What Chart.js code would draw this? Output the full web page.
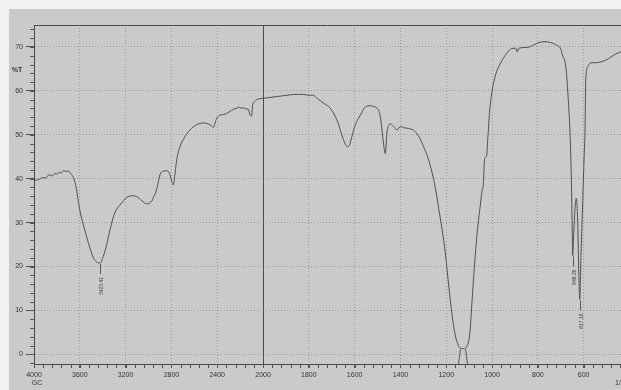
<!DOCTYPE html>
<html>
<head>
<meta charset="utf-8">
<script src="https://cdn.jsdelivr.net/npm/chart.js@4"></script>
<style>
  html, body { margin: 0; padding: 0; background: #f2f2f2; }
  canvas { display: block; }
</style>
</head>
<body>
<canvas id="irChart" width="621" height="390"></canvas>
<script>
// wavenumber (1/cm) and %T
const wavenumbers = [
  4000, 3975, 3950, 3925, 3900, 3880, 3860, 3840, 3820, 3800, 3780, 3760, 3740, 3720, 3700, 3685,
  3670, 3650, 3630, 3615, 3598, 3569, 3526, 3482, 3452, 3423, 3395, 3365, 3336, 3293, 3249, 3190,
  3147, 3103, 3059, 3016, 2995, 2987, 2970, 2958, 2937, 2923, 2900, 2871, 2841, 2818, 2797, 2783,
  2768, 2754, 2725, 2681, 2638, 2579, 2521, 2463, 2434, 2410, 2375, 2345, 2317, 2290, 2259, 2235,
  2216, 2195, 2172, 2150, 2128, 2114, 2099, 2091, 2070, 2056, 2030, 2000, 1970, 1940, 1910, 1882,
  1850, 1824, 1800, 1780, 1765, 1750, 1736, 1720, 1707, 1695, 1685, 1673, 1663, 1649, 1637, 1630,
  1622, 1612, 1597, 1575, 1554, 1532, 1515, 1503, 1488, 1476, 1466, 1459, 1450, 1444, 1430, 1415,
  1400, 1385, 1371, 1342, 1320, 1299, 1277, 1255, 1240, 1233, 1218, 1204, 1189, 1174, 1160, 1150,
  1141, 1124, 1109, 1097, 1087, 1077, 1065, 1050, 1043, 1039, 1032, 1024, 1018, 1010, 999, 985,
  963, 941, 919, 897, 890, 883, 846, 817, 795, 773, 744, 722, 700, 693, 678, 668,
  659, 653, 650, 648, 644, 638, 632, 626, 621, 617, 612, 604, 598, 594, 591, 582,
  569, 547, 525, 503, 481, 460, 437
]
const transmittance = [
  39.5, 39.7, 39.9, 40.3, 40.1, 40.7, 40.9, 40.6, 41.2, 41.0, 41.5, 41.3, 41.9, 41.6, 41.8, 41.3,
  40.9, 39.8, 37.8, 35.2, 32.6, 29.5, 25.5, 22.0, 21.0, 20.8, 22.3, 25.0, 28.4, 32.3, 34.0, 35.7,
  36.1, 35.9, 35.0, 34.3, 34.3, 34.6, 34.9, 35.7, 36.9, 38.2, 40.9, 41.7, 41.8, 41.3, 39.4, 38.6,
  41.3, 44.3, 47.3, 49.6, 51.1, 52.3, 52.7, 52.3, 51.7, 53.4, 54.5, 54.6, 54.9, 55.3, 55.8, 56.0,
  56.3, 56.1, 56.1, 55.9, 55.8, 54.5, 54.3, 56.8, 57.6, 58.0, 58.2, 58.3, 58.5, 58.7, 58.9, 59.1,
  59.2, 59.2, 59.0, 59.0, 58.3, 57.8, 57.2, 56.7, 56.1, 55.2, 54.2, 52.8, 51.1, 48.9, 47.5, 47.3,
  47.7, 49.6, 52.3, 54.5, 56.3, 56.6, 56.4, 56.1, 54.2, 48.9, 45.7, 50.4, 52.3, 52.5, 51.9, 51.1,
  51.9, 51.6, 51.5, 51.0, 49.6, 47.3, 44.3, 39.8, 35.6, 33.2, 28.4, 23.1, 15.5, 8.7, 4.2, 2.4,
  1.5, 1.3, 1.9, 4.9, 12.5, 20.0, 27.7, 34.5, 37.5, 38.2, 44.7, 45.1, 49.6, 55.7, 60.2, 63.6,
  66.3, 68.2, 69.5, 69.7, 68.9, 69.7, 69.9, 70.5, 71.0, 71.2, 71.0, 70.5, 69.5, 68.2, 65.5, 58.7,
  49.6, 38.0, 28.0, 22.5, 27.0, 33.0, 35.5, 30.0, 18.0, 12.5, 22.0, 35.0, 45.0, 51.0, 62.5, 65.5,
  66.4, 66.4, 66.6, 67.0, 67.7, 68.4, 68.9
]

const xTickLabels = [4000, 3600, 3200, 2800, 2400, 2000, 1800, 1600, 1400, 1200, 1000, 800, 600]
const yTickLabels = [0, 10, 20, 30, 40, 50, 60, 70]

const peakWavenumbers = [3423.41, 648.36, 617.18]
const peakLabels = ['3423.41', '648.36', '617.18']
const peakMinima = [20.8, 22.5, 12.5]
const clippedPeaks = [1138, 1118]
const clippedMinima = [1.4, 1.4]

// spectrometer chart: 4000-2000 at half the scale of 2000-400
function toT(w) {
  return w >= 2000 ? (4000 - w) / 2 : 3000 - w
}
function fromT(t) {
  return t <= 1000 ? 4000 - 2 * t : 3000 - t
}

const points = wavenumbers.map((w, i) => ({ x: toT(w), y: transmittance[i] }))

const paper = {
  id: 'paper',
  beforeDraw(chart) {
    const { ctx, width, height } = chart
    ctx.save()
    ctx.fillStyle = '#f1f1f1'
    ctx.fillRect(0, 0, width, height)
    ctx.fillStyle = '#cacaca'
    ctx.fillRect(9, 9, width - 9, height - 9)
    ctx.restore()
  },
  afterDraw(chart) {
    const { ctx, chartArea } = chart
    const x = chart.scales.x
    const y = chart.scales.y
    ctx.save()
    ctx.strokeStyle = '#4a4a4a'
    ctx.lineWidth = 1

    // frame top + 2000 divider
    ctx.beginPath()
    ctx.moveTo(chartArea.left, chartArea.top + 0.5)
    ctx.lineTo(chartArea.right, chartArea.top + 0.5)
    const x2000 = Math.round(x.getPixelForValue(toT(2000))) + 0.5
    ctx.moveTo(x2000, chartArea.top)
    ctx.lineTo(x2000, chartArea.bottom)
    ctx.stroke()

    // minor ticks
    ctx.strokeStyle = '#555'
    ctx.beginPath()
    for (let w = 4000; w > 2000; w -= 80) {
      const px = Math.round(x.getPixelForValue(toT(w))) + 0.5
      ctx.moveTo(px, chartArea.bottom)
      ctx.lineTo(px, chartArea.bottom + 4)
    }
    for (let w = 2000; w >= 440; w -= 40) {
      const px = Math.round(x.getPixelForValue(toT(w))) + 0.5
      ctx.moveTo(px, chartArea.bottom)
      ctx.lineTo(px, chartArea.bottom + 4)
    }
    for (let v = -2; v <= 74; v += 2) {
      const py = Math.round(y.getPixelForValue(v)) + 0.5
      ctx.moveTo(chartArea.left - 4, py)
      ctx.lineTo(chartArea.left, py)
    }
    ctx.stroke()

    // peak annotations
    ctx.strokeStyle = '#5a5a5a'
    ctx.fillStyle = '#444'
    ctx.font = '5px "Liberation Sans", sans-serif'
    peakWavenumbers.forEach((w, i) => {
      const px = Math.round(x.getPixelForValue(toT(w))) + 0.5
      const py = y.getPixelForValue(peakMinima[i])
      ctx.beginPath()
      ctx.moveTo(px, py + 1)
      ctx.lineTo(px, py + 11)
      ctx.stroke()
      ctx.save()
      ctx.translate(px + 1, py + 14)
      ctx.rotate(-Math.PI / 2)
      ctx.textAlign = 'right'
      ctx.textBaseline = 'middle'
      ctx.fillText(peakLabels[i], 0, 0)
      ctx.restore()
    })
    clippedPeaks.forEach((w, i) => {
      const px = Math.round(x.getPixelForValue(toT(w))) + 0.5
      const py = y.getPixelForValue(clippedMinima[i])
      ctx.beginPath()
      ctx.moveTo(px, py + 1)
      ctx.lineTo(px + (i ? 2 : -2), chartArea.bottom)
      ctx.stroke()
    })

    // axis captions
    ctx.fillStyle = '#333'
    ctx.font = 'bold 7px "Liberation Sans", sans-serif'
    ctx.textAlign = 'center'
    ctx.textBaseline = 'middle'
    ctx.fillText('%T', 17, 70)
    ctx.font = '7px "Liberation Sans", sans-serif'
    ctx.fillText('GC', chartArea.left + 3, chartArea.bottom + 19)
    ctx.textAlign = 'left'
    ctx.fillText('1/cm', chartArea.right - 6, chartArea.bottom + 19)
    ctx.restore()
  }
}

new Chart(document.getElementById('irChart'), {
  type: 'line',
  data: {
    datasets: [{
      data: points,
      borderColor: '#505050',
      borderWidth: 1,
      pointRadius: 0,
      cubicInterpolationMode: 'monotone',
      fill: false
    }]
  },
  options: {
    responsive: false,
    animation: false,
    devicePixelRatio: 1,
    layout: { padding: { top: 25, left: 0, right: 0, bottom: 0 } },
    plugins: { legend: { display: false }, tooltip: { enabled: false } },
    scales: {
      x: {
        type: 'linear',
        min: 0,
        max: 2563,
        afterBuildTicks: (s) => { s.ticks = xTickLabels.map((w) => ({ value: toT(w) })) },
        afterFit: (s) => { s.height = 26 },
        ticks: {
          callback: (v) => fromT(v),
          autoSkip: false,
          maxRotation: 0,
          padding: 3,
          color: '#333',
          font: { size: 7, family: '"Liberation Sans", sans-serif' }
        },
        grid: { color: '#9c9c9c', tickColor: '#555', tickLength: 4 },
        border: { display: true, color: '#4a4a4a', dash: [1, 2] }
      },
      y: {
        type: 'linear',
        min: -2.2,
        max: 75,
        afterBuildTicks: (s) => { s.ticks = yTickLabels.map((v) => ({ value: v })) },
        afterFit: (s) => { s.width = 34 },
        ticks: {
          padding: 3,
          color: '#333',
          font: { size: 7, family: '"Liberation Sans", sans-serif' }
        },
        grid: { color: '#9c9c9c', tickColor: '#555', tickLength: 8 },
        border: { display: true, color: '#4a4a4a', dash: [1, 2] }
      }
    }
  },
  plugins: [paper]
})
</script>
</body>
</html>
